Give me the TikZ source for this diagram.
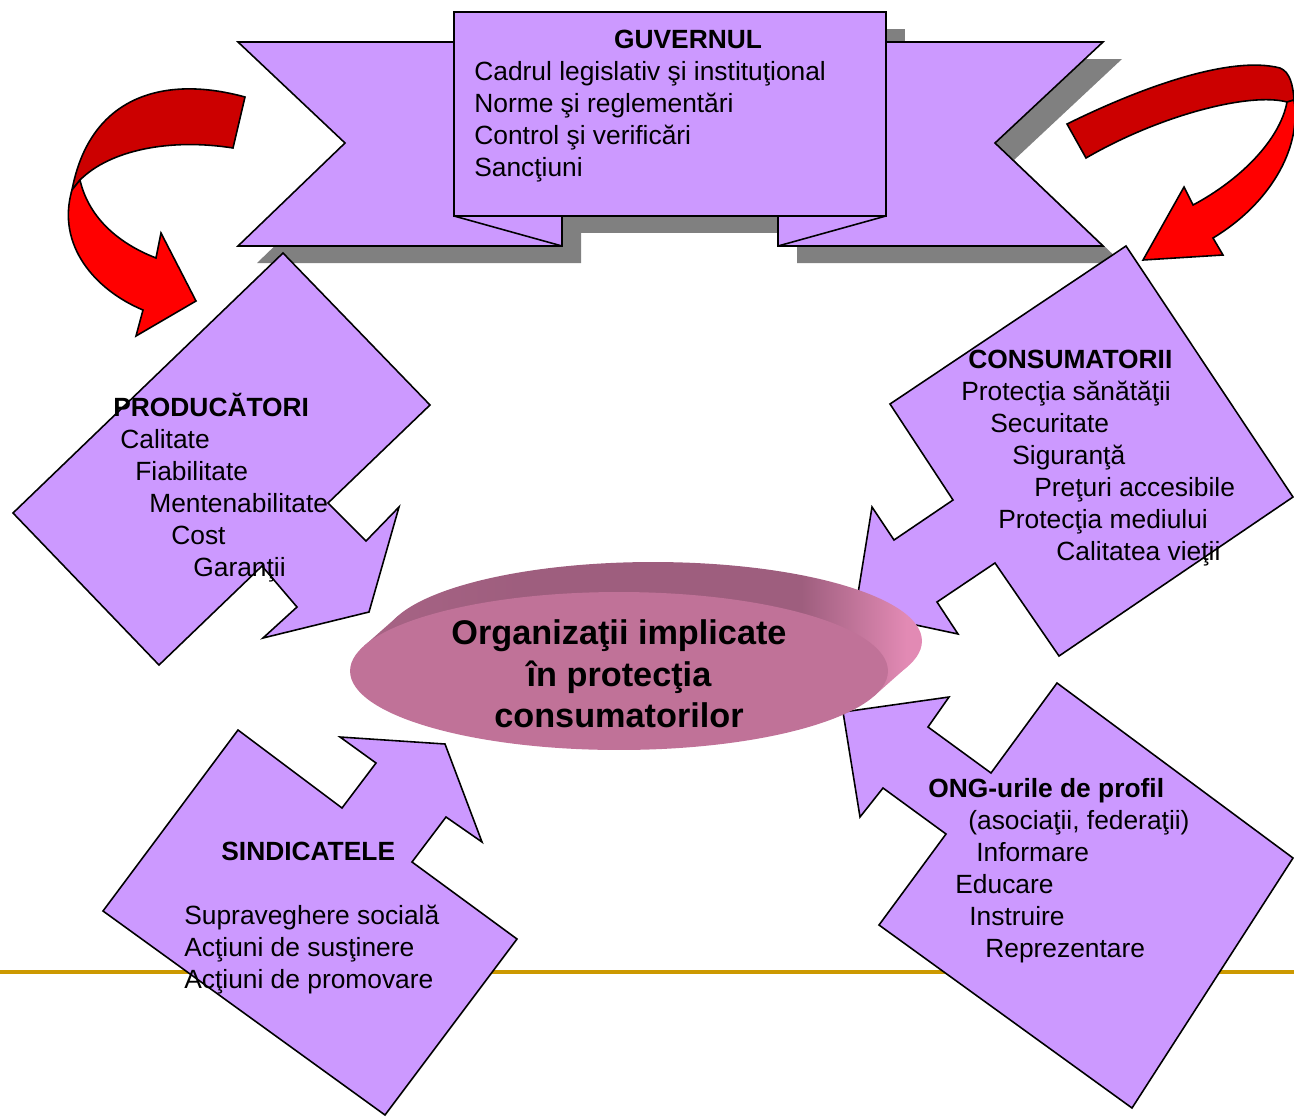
\documentclass[tikz,border=0pt]{standalone}
\usepackage{fontspec}
\setmainfont{Liberation Sans}
\definecolor{govpurple}{RGB}{204,153,255}
\definecolor{shadowgray}{RGB}{128,128,128}
\definecolor{ribbondark}{RGB}{204,0,0}
\definecolor{ribbonred}{RGB}{255,0,0}
\definecolor{ellfront}{RGB}{192,114,152}
\definecolor{ellback}{RGB}{158,94,126}
\definecolor{ellrim}{RGB}{226,138,180}
\definecolor{slidegold}{RGB}{204,153,0}
\pgfdeclarehorizontalshading{diskside}{100bp}{color(0bp)=(ellback!70!ellfront); color(25bp)=(ellback!70!ellfront); color(40bp)=(ellback); color(64bp)=(ellback); color(73bp)=(ellrim); color(100bp)=(ellrim)}

\begin{document}
\begin{tikzpicture}[
    x=0.02cm, y=-0.02cm,
    banner/.style={fill=govpurple, draw=black, line width=0.9pt, line join=miter},
    shadow part/.style={fill=shadowgray},
    ribbon back/.style={fill=ribbondark, draw=black, line width=0.9pt},
    ribbon front/.style={fill=ribbonred, draw=black, line width=0.9pt},
    item text/.style={anchor=base west, inner sep=0pt, font=\fontsize{15}{18}\selectfont},
    head text/.style={item text, font=\fontsize{15}{18}\selectfont\bfseries}
    ]

    \useasboundingbox (0,0) rectangle (1294,1116);

    % 下の線
    \draw[slidegold, line width=2.3pt] (0,972) -- (1294,972);

    % 政府のバナー（影）
    \begin{scope}[shift={(19,17)}]
      \fill[shadow part] (238,42) -- (562,42) -- (562,246) -- (238,246) -- (345,143) -- cycle;
      \fill[shadow part] (1103,42) -- (778,42) -- (778,246) -- (1103,246) -- (995,143) -- cycle;
      \fill[shadow part] (454,12) rectangle (886,216);
    \end{scope}

    % 政府のバナー
    \draw[banner] (238,42) -- (562,42) -- (562,246) -- (238,246) -- (345,143) -- cycle;
    \draw[banner] (1103,42) -- (778,42) -- (778,246) -- (1103,246) -- (995,143) -- cycle;
    \draw[line width=0.9pt] (454,216) -- (562,246);
    \draw[line width=0.9pt] (886,216) -- (778,246);
    \draw[banner] (454,12) rectangle (886,216);

    \node[head text, anchor=base] (GOV) at (688,48) {GUVERNUL};
    \node[item text] (GOV1) at (474,80) {Cadrul legislativ şi instituţional};
    \node[item text] (GOV2) at (474,112) {Norme şi reglementări};
    \node[item text] (GOV3) at (474,144) {Control şi verificări};
    \node[item text] (GOV4) at (474,176) {Sancţiuni};

    % 四つの矢印
    \draw[banner] (283,253) -- (430,405) -- (328,503) -- (366,541) -- (399,507) -- (369,612)
        -- (263,638) -- (297,607) -- (262,566) -- (159,665) -- (13,513) -- cycle;
    \draw[banner] (1126,246) -- (1293,497) -- (1059,656) -- (995,563) -- (937,602) -- (958,634)
        -- (855,612) -- (872,507) -- (894,540) -- (953,500) -- (890,404) -- cycle;
    \draw[banner] (238,730) -- (342,808) -- (376,763) -- (340,737) -- (445,744) -- (482,842)
        -- (446,817) -- (412,862) -- (517,939) -- (385,1115) -- (103,911) -- cycle;
    \draw[banner] (1057,683) -- (1293,858) -- (1132,1108) -- (879,925) -- (946,834) -- (883,788)
        -- (860,817) -- (843,712) -- (949,697) -- (928,727) -- (991,773) -- cycle;

    % 赤い矢印（左）
    \draw[ribbon back] (245,97) .. controls (165,75) and (90,95) .. (72,190) -- (80,180)
        .. controls (110,150) and (170,138) .. (233,148) -- cycle;
    \draw[ribbon front] (80,180) .. controls (88,215) and (115,242) .. (156,258) -- (161,233)
        -- (196,301) -- (136,336) -- (143,310) .. controls (95,290) and (56,245) .. (72,190) -- cycle;

    % 赤い矢印（右）
    \draw[ribbon back] (1067,124) .. controls (1140,88) and (1230,55) .. (1280,68)
        .. controls (1290,72) and (1293,85) .. (1294,100) -- (1287,102)
        .. controls (1250,92) and (1160,115) .. (1086,158) -- cycle;
    \draw[ribbon front] (1287,102) .. controls (1280,140) and (1240,180) .. (1193,205) -- (1184,187)
        -- (1143,260) -- (1223,255) -- (1213,238) .. controls (1268,205) and (1302,150) .. (1294,100) -- cycle;

    % 中央の円盤
    \begin{scope}
      \clip (653,641) ellipse [x radius=5.38cm, y radius=1.58cm];
      \shade[shading=diskside] (345,555) rectangle (930,760);
    \end{scope}
    \begin{scope}
      \clip (364,646) -- (398,616) -- (908,666) -- (874,696) -- cycle;
      \shade[shading=diskside] (345,555) rectangle (930,760);
    \end{scope}
    \fill[ellfront] (619,671) ellipse [x radius=5.38cm, y radius=1.58cm];

    \node[align=center, inner sep=0pt, font=\fontsize{19.5}{23.6}\selectfont\bfseries] (ORG) at (619,674)
        {Organizaţii implicate\\în protecţia\\consumatorilor};

    % 生産者
    \node[head text] (PROD) at (113,416) {PRODUCĂTORI};
    \node[item text] (PROD1) at (120,448) {Calitate};
    \node[item text] (PROD2) at (135,480) {Fiabilitate};
    \node[item text] (PROD3) at (149,512) {Mentenabilitate};
    \node[item text] (PROD4) at (171,544) {Cost};
    \node[item text] (PROD5) at (193,576) {Garanţii};

    % 消費者
    \node[head text] (CONS) at (968,368) {CONSUMATORII};
    \node[item text] (CONS1) at (961,400) {Protecţia sănătăţii};
    \node[item text] (CONS2) at (990,432) {Securitate};
    \node[item text] (CONS3) at (1012,464) {Siguranţă};
    \node[item text] (CONS4) at (1034,496) {Preţuri accesibile};
    \node[item text] (CONS5) at (998,528) {Protecţia mediului};
    \node[item text] (CONS6) at (1056,560) {Calitatea vieţii};

    % 労働組合
    \node[head text] (SIND) at (221,860) {SINDICATELE};
    \node[item text] (SIND1) at (184,924) {Supraveghere socială};
    \node[item text] (SIND2) at (184,956) {Acţiuni de susţinere};
    \node[item text] (SIND3) at (184,988) {Acţiuni de promovare};

    % NGO
    \node[head text] (ONG) at (928,797) {ONG-urile de profil};
    \node[item text] (ONG1) at (968,829) {(asociaţii, federaţii)};
    \node[item text] (ONG2) at (976,861) {Informare};
    \node[item text] (ONG3) at (955,893) {Educare};
    \node[item text] (ONG4) at (969,925) {Instruire};
    \node[item text] (ONG5) at (985,957) {Reprezentare};

\end{tikzpicture}
\end{document}
